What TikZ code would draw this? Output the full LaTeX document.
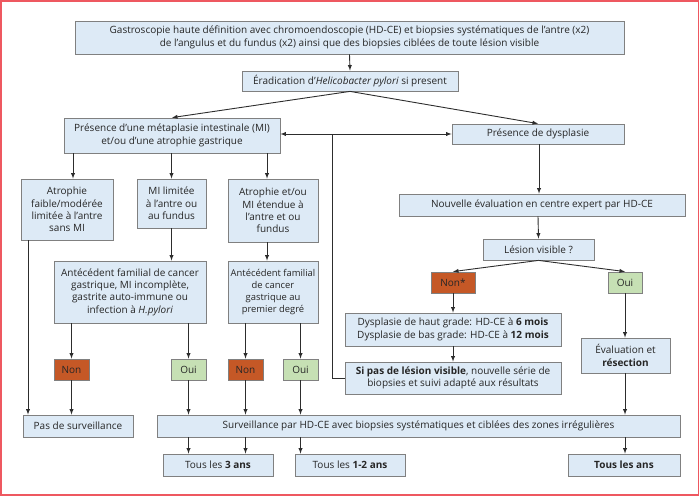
\documentclass[tikz,border=0pt]{standalone}
\usepackage{fontspec}
\setmainfont{Open Sans}
\usepackage{xcolor}
\definecolor{boxblue}{RGB}{221,234,246}
\definecolor{boxline}{RGB}{128,128,128}
\definecolor{nonfill}{RGB}{197,88,38}
\definecolor{ouifill}{RGB}{198,224,180}
\definecolor{framered}{RGB}{238,88,96}
\definecolor{arrowgray}{RGB}{45,45,45}

\begin{document}
\begin{tikzpicture}[x=1pt,y=-1pt,
		boite/.style={
			draw=boxline,
			fill=boxblue,
			line width=.8pt,
			align=center,
			inner sep=0pt,
			text=black!85,
			font=\fontsize{10}{12.3}\selectfont,
		},
		non/.style={boite, fill=nonfill, minimum width=35pt, minimum height=21pt},
		oui/.style={boite, fill=ouifill, minimum width=35pt, minimum height=21pt},
		fleche/.style={draw=arrowgray, line width=.9pt, -latex},
		trait/.style={draw=arrowgray, line width=.9pt}]
		\useasboundingbox (0,0) rectangle (700,497);
		\draw[framered, line width=1.6pt] (1,1) rectangle (698.5,495);
		
		% haut
		\node[boite, minimum width=549pt, minimum height=33pt] (gastro) at (349.5,37.5)
			{Gastroscopie haute définition avec chromoendoscopie (HD-CE) et biopsies systématiques de l’antre (x2)\\de l’angulus et du fundus (x2) ainsi que des biopsies ciblées de toute lésion visible};
		\node[boite, minimum width=216pt, minimum height=20pt] (erad) at (350,81)
			{Éradication d’\textit{Helicobacter pylori} si present};
		\node[boite, minimum width=216pt, minimum height=35pt] (mi) at (172,135.5)
			{Présence d’une métaplasie intestinale (MI)\\et/ou d’une atrophie gastrique};
		\node[boite, minimum width=172pt, minimum height=20pt] (dysp) at (538,134)
			{Présence de dysplasie};
		
		% branche gauche
		\node[boite, minimum width=92pt, minimum height=61pt] (atfaible) at (67,209.5)
			{Atrophie\\faible/modérée\\limitée à l’antre\\sans MI};
		\node[boite, minimum width=69pt, minimum height=49pt] (milim) at (171.5,203.5)
			{MI limitée\\à l’antre ou\\au fundus};
		\node[boite, minimum width=90pt, minimum height=63pt] (atetou) at (273,210.5)
			{Atrophie et/ou\\MI étendue à\\l’antre et ou\\fundus};
		\node[boite, minimum width=152pt, minimum height=62pt] (antbig) at (130,292)
			{Antécédent familial de cancer\\gastrique, MI incomplète,\\gastrite auto-immune ou\\infection à \textit{H.pylori}};
		\node[boite, minimum width=90pt, minimum height=62pt, font=\fontsize{9.4}{12.3}\selectfont] (antsmall) at (273,292)
			{Antécédent familial\\de cancer\\gastrique au\\premier degré};
		\node[non] (non1) at (71.5,369.5) {Non};
		\node[oui] (oui1) at (188.5,369.5) {Oui};
		\node[non] (non2) at (245.5,369.5) {Non};
		\node[oui] (oui2) at (300.5,369.5) {Oui};
		
		% branche droite
		\node[boite, minimum width=286pt, minimum height=22pt] (nouv) at (542,205)
			{Nouvelle évaluation en centre expert par HD-CE};
		\node[boite, minimum width=111pt, minimum height=21pt] (lesion) at (538.5,249.5)
			{Lésion visible ?};
		\node[non, minimum width=44pt] (nonstar) at (453,282.5) {Non*};
		\node[oui, minimum width=34pt] (ouir) at (625,282.5) {Oui};
		\node[boite, minimum width=216pt, minimum height=33pt] (dhg) at (453,329.5)
			{Dysplasie de haut grade: HD-CE à \textbf{6 mois}\\Dysplasie de bas grade: HD-CE à \textbf{12 mois}};
		\node[boite, minimum width=216pt, minimum height=32pt] (sipas) at (453,378)
			{\textbf{Si pas de lésion visible}, nouvelle série de\\biopsies et suivi adapté aux résultats};
		\node[boite, minimum width=89pt, minimum height=35pt] (evalres) at (625.5,355.5)
			{Évaluation et\\\textbf{résection}};
		
		% bas
		\node[boite, minimum width=110pt, minimum height=22pt] (passurv) at (78,426)
			{Pas de surveillance};
		\node[boite, minimum width=523pt, minimum height=22pt] (surv) at (418.5,426)
			{Surveillance par HD-CE avec biopsies systématiques et ciblées des zones irrégulières};
		\node[boite, minimum width=110pt, minimum height=22pt] (t3) at (218,465)
			{Tous les \textbf{3 ans}};
		\node[boite, minimum width=110pt, minimum height=22pt] (t12) at (350,465)
			{Tous les \textbf{1-2 ans}};
		\node[boite, minimum width=112pt, minimum height=22pt] (tans) at (624,465)
			{\textbf{Tous les ans}};
		
		% fleches du haut
		\draw[fleche] (gastro.south) -- (erad.north);
		\draw[fleche] (erad.south) -- (mi.north);
		\draw[fleche] (erad.south) -- (dysp.north);
		\coordinate (retour) at ([xshift=-12pt]sipas.west |- dysp.west);
		\draw[fleche, latex-latex] (mi.east |- retour) -- (dysp.west);
		\draw[trait] (sipas.west) -| (retour);
		
		% fleches gauche
		\draw[fleche] ([xshift=-99pt]mi.south) -- ([xshift=6pt]atfaible.north);
		\draw[fleche] (milim.north |- mi.south) -- (milim.north);
		\draw[fleche] ([xshift=95pt]mi.south) -- ([xshift=-6pt]atetou.north);
		\draw[fleche] ([xshift=-39pt]atfaible.south) -- ([xshift=-50pt]passurv.north);
		\draw[fleche] (milim.south) -- (milim.south |- antbig.north);
		\draw[fleche] ([xshift=-6pt]atetou.south) -- ([xshift=-6pt]antsmall.north);
		\draw[fleche] (non1.north |- antbig.south) -- (non1.north);
		\draw[fleche] (oui1.north |- antbig.south) -- (oui1.north);
		\draw[fleche] (non2.north |- antsmall.south) -- (non2.north);
		\draw[fleche] (oui2.north |- antsmall.south) -- (oui2.north);
		\draw[fleche] (non1.south) -- (non1.south |- passurv.north);
		\draw[fleche] (oui1.south) -- (oui1.south |- surv.north);
		\draw[fleche] (non2.south) -- (non2.south |- surv.north);
		\draw[fleche] (oui2.south) -- (oui2.south |- surv.north);
		
		% fleches droite
		\draw[fleche] ([xshift=1pt]dysp.south) -- ([xshift=-3pt]nouv.north);
		\draw[fleche] ([xshift=-4pt]nouv.south) -- (lesion.north);
		\draw[fleche] (lesion.south) -- (nonstar.north);
		\draw[fleche] (lesion.south) -- (ouir.north);
		\draw[fleche] (nonstar.south) -- (dhg.north);
		\draw[fleche] (dhg.south) -- (sipas.north);
		\draw[fleche] (ouir.south) -- (ouir.south |- evalres.north);
		\draw[fleche] (ouir.south |- evalres.south) -- (ouir.south |- surv.north);
		
		% fleches du bas
		\draw[fleche] (oui1.south |- surv.south) -- (oui1.south |- t3.north);
		\draw[fleche] (non2.south |- surv.south) -- (non2.south |- t3.north);
		\draw[fleche] (oui2.south |- surv.south) -- (oui2.south |- t12.north);
		\draw[fleche] (ouir.south |- surv.south) -- (ouir.south |- tans.north);
		
	\end{tikzpicture}
\end{document}
